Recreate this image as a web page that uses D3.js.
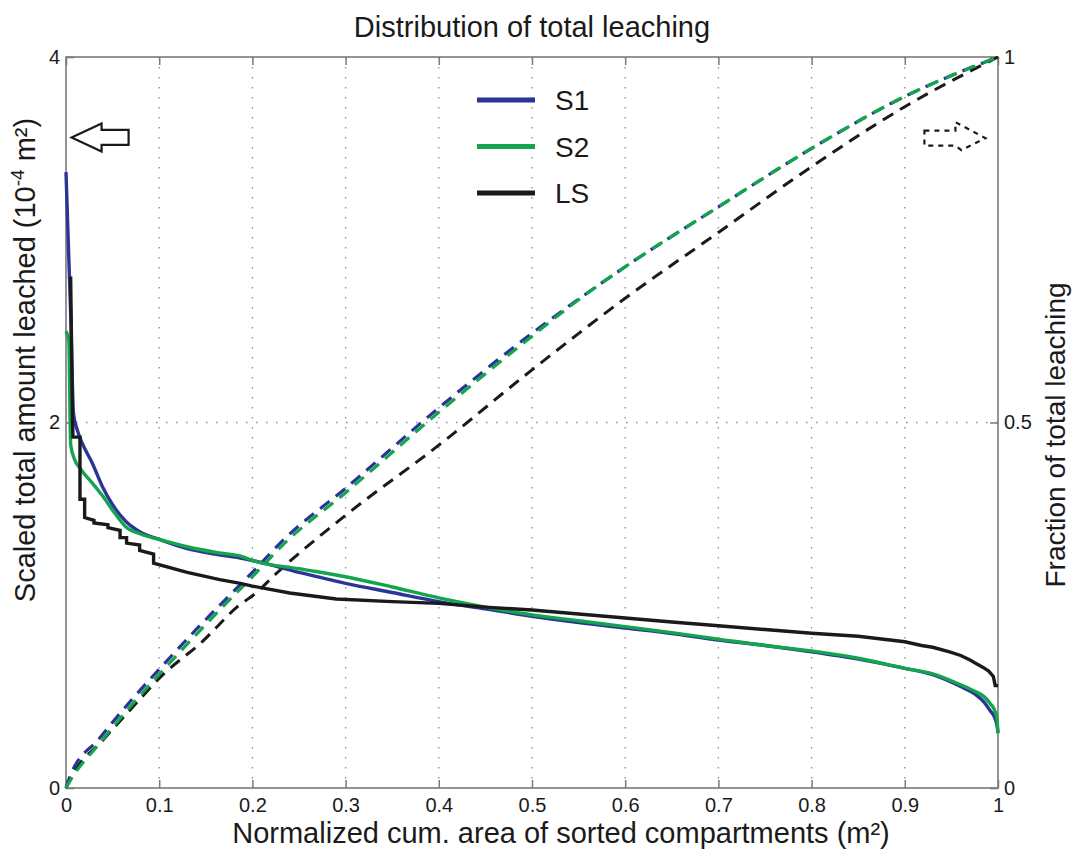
<!DOCTYPE html>
<html>
<head>
<meta charset="utf-8">
<script src="https://cdn.jsdelivr.net/npm/d3@7"></script>
<style>
  html, body { margin: 0; padding: 0; background: #fff; }
  svg { display: block; font-family: "Liberation Sans", Arial, sans-serif; }
</style>
</head>
<body>
<svg id="chart" width="1073" height="850"></svg>
<script>
// ---------- DATA ----------
const titleText = "Distribution of total leaching";
const xLabelText = "Normalized cum. area of sorted compartments (m\u00B2)";
const yRightLabelText = "Fraction of total leaching";

const xTicks = [0, 0.1, 0.2, 0.3, 0.4, 0.5, 0.6, 0.7, 0.8, 0.9, 1];
const xTickLabels = ["0", "0.1", "0.2", "0.3", "0.4", "0.5", "0.6", "0.7", "0.8", "0.9", "1"];
const leftTicks = [0, 2, 4];
const leftTickLabels = ["0", "2", "4"];
const rightTicks = [0, 0.5, 1];
const rightTickLabels = ["0", "0.5", "1"];

const seriesNames = ["S1", "S2", "LS"];
const seriesColors = ["#2b3597", "#13a54b", "#1a1a1a"];

// Scaled total amount leached (left axis, 10^-4 m2)
const s1X = [0, 0.003, 0.005, 0.008, 0.012, 0.018, 0.028, 0.039, 0.05, 0.064, 0.08, 0.1, 0.13, 0.16, 0.19, 0.2, 0.25, 0.3, 0.35, 0.4, 0.45, 0.5, 0.55, 0.6, 0.65, 0.7, 0.75, 0.8, 0.85, 0.9, 0.93, 0.96, 0.975, 0.985, 0.992, 0.996, 0.999, 1.0];
const s1Y = [3.37, 2.9, 2.6, 2.05, 1.96, 1.88, 1.78, 1.65, 1.55, 1.46, 1.4, 1.36, 1.31, 1.28, 1.255, 1.245, 1.18, 1.12, 1.07, 1.02, 0.98, 0.94, 0.905, 0.875, 0.845, 0.81, 0.78, 0.745, 0.705, 0.655, 0.62, 0.555, 0.515, 0.47, 0.42, 0.39, 0.34, 0.3];

const s2X = [0, 0.003, 0.005, 0.009, 0.015, 0.028, 0.039, 0.05, 0.064, 0.08, 0.1, 0.13, 0.16, 0.19, 0.2, 0.25, 0.3, 0.35, 0.4, 0.45, 0.5, 0.55, 0.6, 0.65, 0.7, 0.75, 0.8, 0.85, 0.9, 0.93, 0.96, 0.975, 0.985, 0.992, 0.996, 0.999, 1.0];
const s2Y = [2.5, 2.45, 1.88, 1.8, 1.75, 1.67, 1.6, 1.52, 1.43, 1.39, 1.36, 1.32, 1.29, 1.265, 1.245, 1.2, 1.156, 1.1, 1.04, 0.99, 0.947, 0.915, 0.883, 0.85, 0.815, 0.78, 0.75, 0.71, 0.655, 0.625, 0.565, 0.53, 0.5, 0.46, 0.43, 0.37, 0.3];

const lsX = [0.003, 0.005, 0.007, 0.0075, 0.015, 0.015, 0.02, 0.02, 0.03, 0.03, 0.045, 0.045, 0.058, 0.058, 0.065, 0.065, 0.079, 0.079, 0.094, 0.094, 0.13, 0.165, 0.187, 0.2, 0.24, 0.29, 0.35, 0.4, 0.45, 0.5, 0.55, 0.6, 0.65, 0.7, 0.75, 0.8, 0.85, 0.9, 0.918, 0.93, 0.948, 0.96, 0.97, 0.975, 0.984, 0.99, 0.995, 0.997, 1.0];
const lsY = [2.79, 2.79, 2.0, 1.92, 1.92, 1.58, 1.58, 1.48, 1.465, 1.45, 1.44, 1.425, 1.41, 1.37, 1.37, 1.34, 1.33, 1.3, 1.28, 1.23, 1.18, 1.14, 1.12, 1.105, 1.067, 1.034, 1.02, 1.01, 0.99, 0.974, 0.952, 0.93, 0.908, 0.888, 0.867, 0.847, 0.83, 0.8, 0.78, 0.77, 0.745, 0.725, 0.70, 0.685, 0.66, 0.64, 0.61, 0.56, 0.56];

// Fraction of total leaching (right axis)
const s1CumX = [0, 0.004, 0.036, 0.07, 0.104, 0.142, 0.179, 0.2, 0.233, 0.3, 0.4, 0.5, 0.6, 0.7, 0.8, 0.9, 1.0];
const s1Cum = [0, 0.015, 0.068, 0.12, 0.168, 0.22, 0.268, 0.295, 0.339, 0.41, 0.52, 0.622, 0.713, 0.795, 0.875, 0.946, 1.0];
const s2CumX = [0, 0.004, 0.036, 0.07, 0.104, 0.142, 0.179, 0.2, 0.233, 0.3, 0.4, 0.5, 0.55, 0.6, 0.7, 0.8, 0.9, 1.0];
const s2Cum = [0, 0.009, 0.061, 0.113, 0.161, 0.213, 0.262, 0.289, 0.333, 0.404, 0.514, 0.618, 0.668, 0.713, 0.795, 0.875, 0.946, 1.0];
const lsCumX = [0, 0.004, 0.04, 0.069, 0.104, 0.146, 0.184, 0.205, 0.222, 0.3, 0.4, 0.5, 0.6, 0.7, 0.8, 0.9, 1.0];
const lsCum = [0, 0.011, 0.066, 0.107, 0.155, 0.2, 0.248, 0.268, 0.289, 0.373, 0.469, 0.572, 0.67, 0.76, 0.85, 0.932, 1.0];

// ---------- LAYOUT ----------
const plot = { left: 66, right: 998, top: 57, bottom: 788 };
const svg = d3.select("#chart");

const x = d3.scaleLinear().domain([0, 1]).range([plot.left, plot.right]);
const yL = d3.scaleLinear().domain([0, 4]).range([plot.bottom, plot.top]);
const yR = d3.scaleLinear().domain([0, 1]).range([plot.bottom, plot.top]);

const axisColor = "#7a7a7a";
const fontMain = 29;
const fontTick = 20;

// grid
const grid = svg.append("g");
grid.selectAll("line.v").data(xTicks.filter(d => d > 0 && d < 1)).join("line")
  .attr("x1", d => x(d)).attr("x2", d => x(d))
  .attr("y1", plot.top).attr("y2", plot.bottom)
  .attr("stroke", "#8a8a8a").attr("stroke-width", 1.3).attr("stroke-dasharray", "1.5,8.5");
grid.selectAll("line.h").data([2]).join("line")
  .attr("x1", plot.left).attr("x2", plot.right)
  .attr("y1", d => yL(d)).attr("y2", d => yL(d))
  .attr("stroke", "#8a8a8a").attr("stroke-width", 1.3).attr("stroke-dasharray", "1.5,8.5");

// axes
function styleAxis(g) {
  g.select(".domain").remove();
  g.selectAll(".tick line").attr("stroke", axisColor).attr("stroke-width", 1.5);
  g.selectAll(".tick text").attr("fill", "#1a1a1a").attr("font-size", fontTick)
    .attr("font-family", "Liberation Sans, Arial, sans-serif");
}
svg.append("g").attr("transform", `translate(0,${plot.bottom})`)
  .call(d3.axisBottom(x).tickValues(xTicks).tickFormat((d, i) => xTickLabels[i]).tickSize(-8).tickPadding(10))
  .call(styleAxis);
svg.append("g").attr("transform", `translate(0,${plot.top})`)
  .call(d3.axisTop(x).tickValues(xTicks).tickFormat("").tickSize(-8))
  .call(styleAxis);
svg.append("g").attr("transform", `translate(${plot.left},0)`)
  .call(d3.axisLeft(yL).tickValues(leftTicks).tickFormat((d, i) => leftTickLabels[i]).tickSize(-8).tickPadding(6))
  .call(styleAxis);
svg.append("g").attr("transform", `translate(${plot.right},0)`)
  .call(d3.axisRight(yR).tickValues(rightTicks).tickFormat((d, i) => rightTickLabels[i]).tickSize(-8).tickPadding(6))
  .call(styleAxis);

// box
svg.append("rect")
  .attr("x", plot.left).attr("y", plot.top)
  .attr("width", plot.right - plot.left).attr("height", plot.bottom - plot.top)
  .attr("fill", "none").attr("stroke", axisColor).attr("stroke-width", 1.6);

// curves
const lineL = d3.line().x(d => x(d[0])).y(d => yL(d[1])).curve(d3.curveMonotoneX);
const lineLstep = d3.line().x(d => x(d[0])).y(d => yL(d[1]));
const lineR = d3.line().x(d => x(d[0])).y(d => yR(d[1])).curve(d3.curveMonotoneX);
const zip = (a, b) => a.map((v, i) => [v, b[i]]);

const curves = svg.append("g").attr("fill", "none").attr("stroke-linejoin", "round");
// dashed cumulative fractions
curves.append("path").datum(zip(lsCumX, lsCum)).attr("d", lineR)
  .attr("stroke", seriesColors[2]).attr("stroke-width", 3).attr("stroke-dasharray", "12,8");
curves.append("path").datum(zip(s1CumX, s1Cum)).attr("d", lineR)
  .attr("stroke", seriesColors[0]).attr("stroke-width", 3.2).attr("stroke-dasharray", "12,8");
curves.append("path").datum(zip(s2CumX, s2Cum)).attr("d", lineR)
  .attr("stroke", seriesColors[1]).attr("stroke-width", 3.2).attr("stroke-dasharray", "12,8");

// solid amounts
curves.append("path").datum(zip(s1X, s1Y)).attr("d", lineL)
  .attr("stroke", seriesColors[0]).attr("stroke-width", 3.4);
curves.append("path").datum(zip(s2X, s2Y)).attr("d", lineL)
  .attr("stroke", seriesColors[1]).attr("stroke-width", 3.4);
curves.append("path").datum(zip(lsX, lsY)).attr("d", lineLstep)
  .attr("stroke", seriesColors[2]).attr("stroke-width", 3.4).attr("stroke-linejoin", "miter");

// direction arrows (left axis arrow, right axis dashed arrow)
const lTip = [x(0.006), yL(3.56)];
const leftArrow = [
  [lTip[0], lTip[1]], [lTip[0] + 30, lTip[1] - 14], [lTip[0] + 30, lTip[1] - 7.5],
  [lTip[0] + 57, lTip[1] - 7.5], [lTip[0] + 57, lTip[1] + 7.5], [lTip[0] + 30, lTip[1] + 7.5],
  [lTip[0] + 30, lTip[1] + 14]
];
svg.append("path").attr("d", d3.line()(leftArrow) + "Z")
  .attr("fill", "none").attr("stroke", "#1a1a1a").attr("stroke-width", 2.2).attr("stroke-linejoin", "miter");

const rTip = [x(0.9865), yR(0.889)];
const rightArrow = [
  [rTip[0] - 61, rTip[1] - 7.5], [rTip[0] - 30, rTip[1] - 7.5], [rTip[0] - 30, rTip[1] - 16],
  [rTip[0], rTip[1]], [rTip[0] - 24, rTip[1] + 12], [rTip[0] - 30, rTip[1] + 7.5],
  [rTip[0] - 61, rTip[1] + 7.5]
];
svg.append("path").attr("d", d3.line()(rightArrow) + "Z")
  .attr("fill", "none").attr("stroke", "#1a1a1a").attr("stroke-width", 2.2).attr("stroke-dasharray", "5,5");

// legend
const legend = svg.append("g");
const legendY0 = 100, legendDy = 46.5;
seriesNames.forEach((name, i) => {
  const yy = legendY0 + i * legendDy;
  legend.append("line").attr("x1", 477).attr("x2", 535).attr("y1", yy).attr("y2", yy)
    .attr("stroke", seriesColors[i]).attr("stroke-width", 5);
  legend.append("text").attr("x", 555).attr("y", yy + 10).attr("font-size", 28)
    .attr("fill", "#1a1a1a").text(name);
});

// titles
svg.append("text").attr("x", 532).attr("y", 37).attr("text-anchor", "middle")
  .attr("font-size", fontMain).attr("fill", "#1a1a1a").text(titleText);
svg.append("text").attr("x", 561).attr("y", 843).attr("text-anchor", "middle")
  .attr("font-size", fontMain).attr("fill", "#1a1a1a").text(xLabelText);

const yl = svg.append("text").attr("transform", "translate(35,360) rotate(-90)")
  .attr("text-anchor", "middle").attr("font-size", fontMain).attr("fill", "#1a1a1a");
yl.append("tspan").text("Scaled total amount leached (10");
yl.append("tspan").attr("font-size", 19).attr("dy", -11).text("-4");
yl.append("tspan").attr("dy", 11).text(" m\u00B2)");

svg.append("text").attr("transform", "translate(1065,435) rotate(-90)")
  .attr("text-anchor", "middle").attr("font-size", 28).attr("fill", "#1a1a1a").text(yRightLabelText);
</script>
</body>
</html>
